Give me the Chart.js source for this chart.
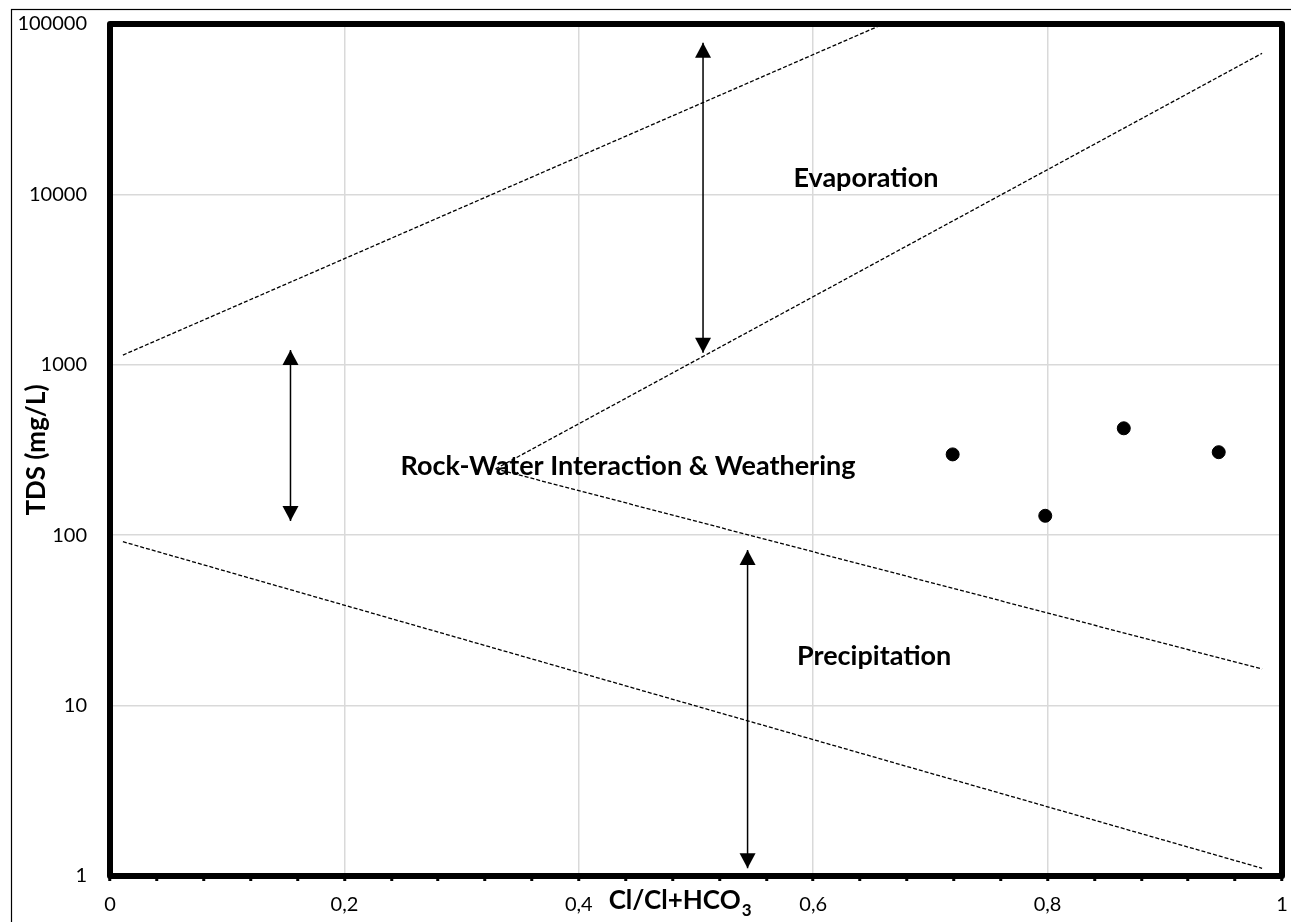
<!DOCTYPE html>
<html>
<head>
<meta charset="utf-8">
<script src="https://cdn.jsdelivr.net/npm/chart.js@4.4.0/dist/chart.umd.min.js"></script>
<style>
  html, body { margin: 0; padding: 0; background: #fff; }
  #wrap { width: 1291px; height: 922px; position: relative; }
</style>
</head>
<body>
<div id="wrap"><canvas id="gibbs"></canvas></div>
<script>
// samples
const sampleX = [0.719, 0.798, 0.865, 0.946];
const sampleTDS = [298, 130, 424, 307];

// boundary lines of the diagram
const evapUpperX = [0.011, 0.66];
const evapUpperY = [1140, 100000];
const evapLowerX = [0.329, 0.983];
const evapLowerY = [245, 67300];
const precUpperX = [0.329, 0.983];
const precUpperY = [245, 16.4];
const precLowerX = [0.011, 0.983];
const precLowerY = [91.6, 1.11];

// double arrows
const arrowX = [0.506, 0.154, 0.544];
const arrowTop = [77600, 1222, 81.9];
const arrowBottom = [1178, 121, 1.11];

// zone labels
const zoneText = ['Evaporation', 'Rock-Water Interaction & Weathering', 'Precipitation'];
const zoneX = [0.645, 0.442, 0.652];
const zoneY = [12500, 255, 19.5];

// ticks
const xTickLabels = ['0', '0,2', '0,4', '0,6', '0,8', '1'];
const yTicks = [1, 10, 100, 1000, 10000, 100000];

const FONT = 'Lato';
Chart.defaults.font.family = FONT;
Chart.defaults.color = '#000';

const pts = (xs, ys) => xs.map((x, i) => ({ x, y: ys[i] }));
const isMajor = v => Math.abs(v * 5 - Math.round(v * 5)) < 1e-6;

function dashed(xs, ys) {
  return {
    type: 'line',
    data: pts(xs, ys),
    borderColor: '#000',
    borderWidth: 1.3,
    borderDash: [4, 2],
    pointRadius: 0,
    fill: false
  };
}

const datasets = [
  dashed(evapUpperX, evapUpperY),
  dashed(evapLowerX, evapLowerY),
  dashed(precUpperX, precUpperY),
  dashed(precLowerX, precLowerY)
];
arrowX.forEach((x, i) => {
  datasets.push({
    type: 'line',
    data: [{ x, y: arrowTop[i] }, { x, y: arrowBottom[i] }],
    borderColor: '#000',
    borderWidth: 1.5,
    pointRadius: 0,
    fill: false
  });
});
datasets.push({
  type: 'scatter',
  data: pts(sampleX, sampleTDS),
  backgroundColor: '#000',
  borderColor: '#000',
  pointRadius: 6.5,
  pointHoverRadius: 6.5
});

const decor = {
  id: 'decor',
  afterDatasetsDraw(chart) {
    const { ctx, chartArea: a, scales: { x, y } } = chart;
    ctx.save();

    // arrow heads
    ctx.fillStyle = '#000';
    const head = (px, py, dir) => {
      ctx.beginPath();
      ctx.moveTo(px, py);
      ctx.lineTo(px - 8, py - dir * 15);
      ctx.lineTo(px + 8, py - dir * 15);
      ctx.closePath();
      ctx.fill();
    };
    arrowX.forEach((v, i) => {
      const px = x.getPixelForValue(v);
      head(px, y.getPixelForValue(arrowTop[i]), -1);
      head(px, y.getPixelForValue(arrowBottom[i]), 1);
    });

    // zone labels
    ctx.font = 'bold 27px ' + FONT;
    ctx.textAlign = 'center';
    ctx.textBaseline = 'middle';
    zoneText.forEach((t, i) => {
      ctx.fillText(t, x.getPixelForValue(zoneX[i]), y.getPixelForValue(zoneY[i]));
    });

    // thick plot border
    ctx.strokeStyle = '#000';
    ctx.lineWidth = 6;
    ctx.lineJoin = 'round';
    ctx.strokeRect(a.left, a.top, a.right - a.left, a.bottom - a.top);

    // outer frame
    ctx.lineWidth = 1.2;
    ctx.lineJoin = 'miter';
    ctx.strokeRect(11.5, 9.5, 3000, 3000);

    // x axis title with subscript
    const main = 'Cl/Cl+HCO', sub = '3';
    ctx.font = 'bold 26px ' + FONT;
    const wMain = ctx.measureText(main).width;
    ctx.font = 'bold 17px ' + FONT;
    const wSub = ctx.measureText(sub).width;
    const cx = x.getPixelForValue(0.486);
    const sx = cx - (wMain + wSub) / 2;
    ctx.textAlign = 'left';
    ctx.textBaseline = 'alphabetic';
    ctx.font = 'bold 26px ' + FONT;
    ctx.fillText(main, sx, 909);
    ctx.font = 'bold 17px ' + FONT;
    ctx.fillText(sub, sx + wMain + 1, 916);

    ctx.restore();
  }
};

new Chart(document.getElementById('gibbs'), {
  data: { datasets },
  plugins: [decor],
  options: {
    responsive: true,
    maintainAspectRatio: false,
    animation: false,
    events: [],
    layout: { padding: { top: 24, right: 9, left: 0, bottom: 0 } },
    plugins: { legend: { display: false }, tooltip: { enabled: false } },
    scales: {
      x: {
        type: 'linear',
        min: 0,
        max: 1,
        afterFit: s => {
          s.height = 46;
          s.paddingLeft = 0;
          s.paddingRight = 0;
        },
        border: { display: false },
        grid: {
          color: c => (c.tick && isMajor(c.tick.value)) ? '#d9d9d9' : 'rgba(0,0,0,0)',
          lineWidth: 1.5,
          tickColor: '#000',
          tickLength: 5,
          tickWidth: 3
        },
        ticks: {
          stepSize: 0.04,
          autoSkip: false,
          maxRotation: 0,
          padding: 12,
          font: { size: 20 },
          callback: v => isMajor(v) ? xTickLabels[Math.round(v * 5)] : ''
        }
      },
      y: {
        type: 'logarithmic',
        min: 1,
        max: 100000,
        afterFit: s => {
          s.width = 110;
          s.paddingTop = 0;
          s.paddingBottom = 0;
        },
        afterBuildTicks: s => { s.ticks = yTicks.map(v => ({ value: v })); },
        border: { display: false },
        grid: { color: '#d9d9d9', lineWidth: 1.5, drawTicks: false },
        ticks: {
          padding: 23,
          font: { size: 20 },
          callback: v => String(v)
        },
        title: {
          display: true,
          text: 'TDS (mg/L)',
          font: { size: 26, weight: 'bold' },
          padding: { top: 21, bottom: 0 }
        }
      }
    }
  }
});
</script>
</body>
</html>
